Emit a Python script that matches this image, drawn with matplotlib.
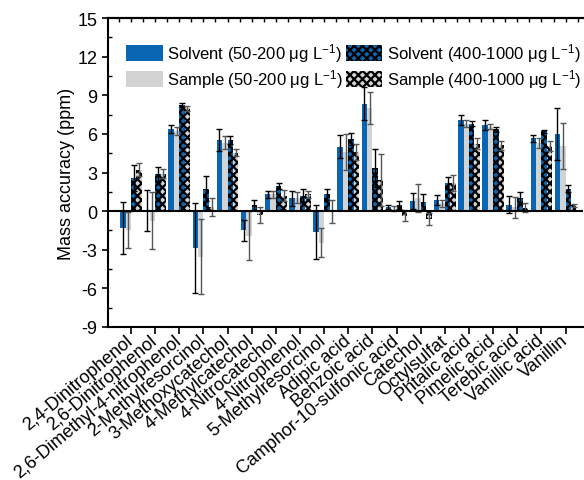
import matplotlib
matplotlib.use("Agg")
import matplotlib.pyplot as plt
from matplotlib.transforms import ScaledTranslation
import numpy as np

plt.rcParams['font.family'] = ['Liberation Sans', 'DejaVu Sans']
plt.rcParams['mathtext.fontset'] = 'custom'
plt.rcParams['mathtext.rm'] = 'Liberation Sans'
plt.rcParams['mathtext.it'] = 'Liberation Sans'
plt.rcParams['axes.unicode_minus'] = False
plt.rcParams['hatch.linewidth'] = 1.6

categories = ["2,4-Dinitrophenol", "2,6-Dinitrophenol", "2,6-Dimethyl-4-nitrophenol",
              "2-Methylresorcinol", "3-Methoxycatechol", "4-Methylcatechol",
              "4-Nitrocatechol", "4-Nitrophenol", "5-Methylresorcinol", "Adipic acid",
              "Benzoic acid", "Camphor-10-sulfonic acid", "Catechol", "Octylsulfat",
              "Phtalic acid", "Pimelic acid", "Terebic acid", "Vanillic acid", "Vanillin"]

solvent_low = [-1.3, 0.05, 6.4, -2.85, 5.5, -1.5, 1.3, 1.0, -1.6, 5.0, 8.35, 0.3, 0.8, 0.85, 7.1, 6.7, 0.5, 5.65, 6.0]
solvent_low_err = [2.0, 1.6, 0.3, 3.5, 0.85, 0.8, 0.3, 0.6, 2.1, 0.9, 1.3, 0.15, 0.6, 0.4, 0.4, 0.4, 0.65, 0.3, 2.0]

sample_low = [-1.5, -0.75, 6.25, -3.55, 5.3, -1.9, 1.3, 1.05, -2.45, 4.6, 8.0, 0.2, 1.0, 0.6, 6.8, 6.55, 0.3, 5.3, 5.05]
sample_low_err = [1.4, 2.2, 0.3, 2.9, 0.5, 1.9, 0.3, 0.4, 1.15, 1.4, 1.25, 0.2, 1.1, 0.3, 0.25, 0.2, 0.8, 0.4, 1.8]

solvent_high = [2.6, 2.85, 8.25, 1.75, 5.5, 0.5, 1.95, 1.2, 1.3, 5.6, 3.35, 0.45, 0.7, 2.2, 6.8, 6.35, 1.0, 6.2, 1.75]
solvent_high_err = [1.0, 0.6, 0.15, 1.0, 0.3, 0.4, 0.2, 0.5, 0.4, 0.45, 1.5, 0.3, 0.65, 0.45, 0.2, 0.2, 0.45, 0.1, 0.3]

sample_high = [3.2, 2.9, 8.0, 0.3, 4.55, -0.3, 1.2, 1.3, -0.05, 4.6, 2.4, -0.35, -0.6, 2.2, 5.25, 5.1, 0.25, 5.05, 0.45]
sample_high_err = [0.5, 0.35, 0.2, 0.7, 0.3, 0.6, 0.45, 0.3, 0.9, 0.65, 2.0, 0.45, 0.45, 0.6, 0.45, 0.35, 0.35, 0.4, 0.1]

labels = ["Solvent (50-200 μg L$^{-1}$)", "Sample (50-200 μg L$^{-1}$)",
          "Solvent (400-1000 μg L$^{-1}$)", "Sample (400-1000 μg L$^{-1}$)"]

BLUE = '#0A66B2'
GREY = '#D3D3D3'

fig = plt.figure(figsize=(5.84, 4.81), dpi=100)
ax = fig.add_axes([108/584, 153/481, 475/584, 309/481])

x = np.arange(len(categories))
w = 0.225
series = [
    (solvent_low, solvent_low_err, BLUE, None, 'black'),
    (sample_low, sample_low_err, GREY, None, '#555555'),
    (solvent_high, solvent_high_err, BLUE, 'xxxx', 'black'),
    (sample_high, sample_high_err, GREY, 'xxxx', '#555555'),
]
offsets = [-1.5*w, -0.5*w, 0.5*w, 1.5*w]
handles = []
for (vals, errs, col, hatch, ecol), off, lab in zip(series, offsets, labels):
    if hatch:
        b = ax.bar(x + off, vals, w, color=col, hatch=hatch, edgecolor='black', linewidth=0, zorder=2, label=lab)
    else:
        b = ax.bar(x + off, vals, w, color=col, linewidth=0, zorder=2, label=lab)
    ax.errorbar(x + off, vals, yerr=errs, fmt='none', ecolor=ecol, elinewidth=1.0, capsize=2.5, capthick=1.0, zorder=3)
    handles.append(b)

ax.axhline(0, color='black', linewidth=1.5, zorder=4)

ax.set_xlim(-0.95, 18.72)
ax.set_ylim(-9, 15)
ax.set_yticks(np.arange(-9, 16, 3))
ax.set_yticks(np.arange(-7.5, 15, 3), minor=True)
ax.set_xticks(x)
ax.set_xticklabels(categories, rotation=40, ha='right', va='center', rotation_mode='anchor', fontsize=13)
shift = ScaledTranslation(7/100, -6/100, fig.dpi_scale_trans)
for lbl in ax.get_xticklabels():
    lbl.set_transform(lbl.get_transform() + shift)
ax.tick_params(axis='x', which='major', direction='out', length=5, width=1.2, pad=3)
ax.tick_params(axis='y', which='major', direction='out', length=4, width=1.2, labelsize=13)
ax.tick_params(axis='y', which='minor', direction='in', length=3, width=1.0)
ax.set_ylabel("Mass accuracy (ppm)", fontsize=13, labelpad=2)

for s in ['left', 'bottom', 'top']:
    ax.spines[s].set_linewidth(1.5)
ax.spines['right'].set_visible(False)

sec = ax.secondary_xaxis('top')
sec.set_xticks(np.arange(-0.5, 19, 0.5))
sec.tick_params(direction='in', length=3, width=1.0, labeltop=False)
sec.spines['top'].set_linewidth(1.5)

leg = fig.legend(handles, labels, ncol=2, loc='upper left', bbox_to_anchor=(118/584, 1 - 34/481),
                 frameon=False, fontsize=12, handlelength=2.2, handleheight=1.1,
                 handletextpad=0.25, columnspacing=0.15, labelspacing=0.2, borderpad=0)

fig.savefig("out.png", dpi=100)
